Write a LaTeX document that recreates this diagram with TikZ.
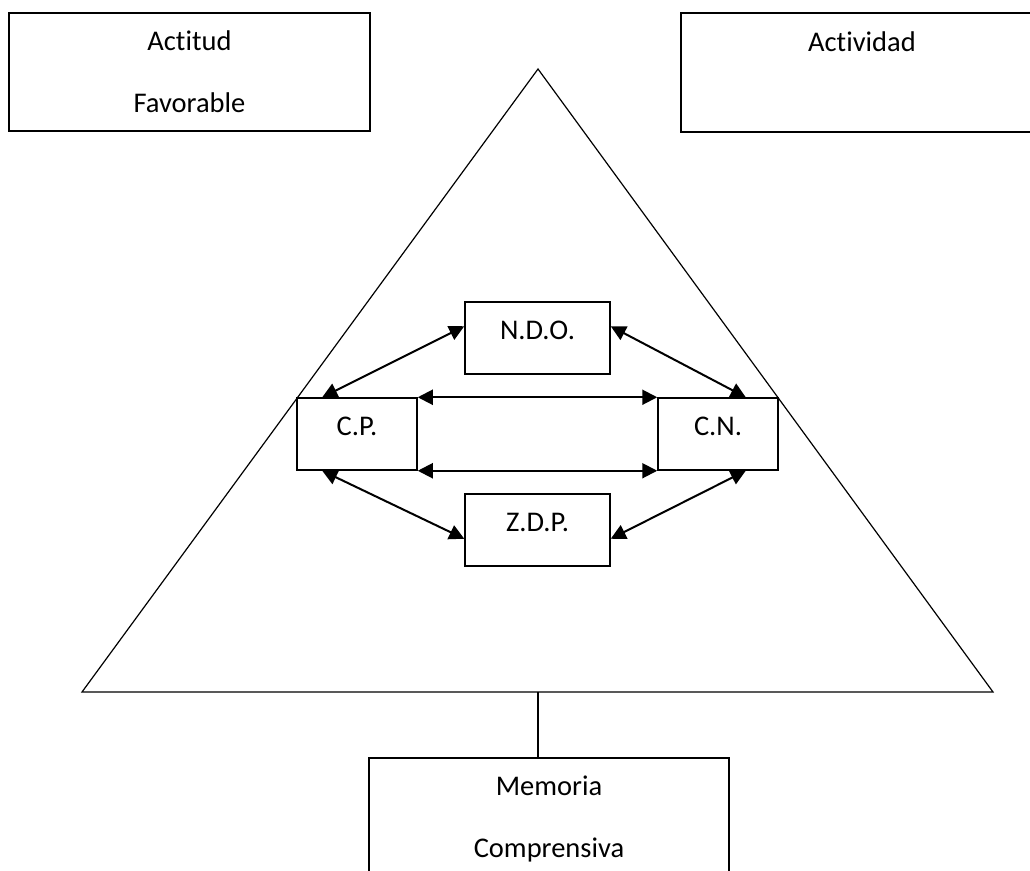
\documentclass[tikz,border=0pt]{standalone}
\usepackage{fontspec}
\setmainfont[Ligatures=NoCommon]{Carlito}
\usetikzlibrary{arrows.meta}
\begin{document}
\begin{tikzpicture}[x=1pt,y=-1pt,
  bigbox/.style={draw,line width=1.5pt,rectangle,inner sep=0pt,align=center,
    font=\fontsize{28.5}{62}\selectfont},
  smallbox/.style={draw,line width=1.5pt,rectangle,inner sep=0pt,
    text height=0.7em,text depth=0.5em,font=\fontsize{28.5}{34}\selectfont},
  link/.style={line width=2pt,{Triangle[length=15pt,width=15pt]}-{Triangle[length=15pt,width=15pt]}},
  tri/.style={line width=1.2pt,line join=miter}]
\useasboundingbox (0,0) rectangle (1030,870);
\clip (0,0) rectangle (1030,870);
% top boxes
\node[bigbox,minimum width=361pt,minimum height=118pt] (actitud) at (189.5,72) {Actitud\\Favorable};
\node[bigbox,minimum width=362pt,minimum height=119pt] (actividad) at (862,72.5) {Actividad\\\mbox{}};
% triangle
\coordinate (apex) at (538,69);
\coordinate (bl) at (82,692);
\coordinate (br) at (993,692);
\coordinate (bm) at (538,692);
\draw[tri] (apex) -- (bl) -- (br) -- cycle;
% bottom box
\node[bigbox,minimum width=360pt,minimum height=122pt] (memoria) at (549,819) {Memoria\\Comprensiva};
\draw[line width=1.2pt] (bm) -- (bm |- memoria.north);
% inner boxes
\node[smallbox,minimum width=145pt,minimum height=72pt] (ndo) at (537.5,338) {N.D.O.};
\node[smallbox,minimum width=120pt,minimum height=72pt] (cp) at (357,434) {C.P.};
\node[smallbox,minimum width=120pt,minimum height=72pt] (cn) at (718,434) {C.N.};
\node[smallbox,minimum width=145pt,minimum height=72pt] (zdp) at (537.5,530) {Z.D.P.};
% connectors
\draw[link] ([xshift=26pt]cp.north west) -- ([yshift=-25pt]ndo.north west);
\draw[link] ([yshift=-25pt]ndo.north east) -- ([xshift=-33pt]cn.north east);
\draw[link] (cp.north east) -- (cn.north west);
\draw[link] (cp.south east) -- (cn.south west);
\draw[link] ([xshift=26pt]cp.south west) -- ([yshift=28pt]zdp.south west);
\draw[link] ([yshift=28pt]zdp.south east) -- ([xshift=-33pt]cn.south east);
\end{tikzpicture}
\end{document}
